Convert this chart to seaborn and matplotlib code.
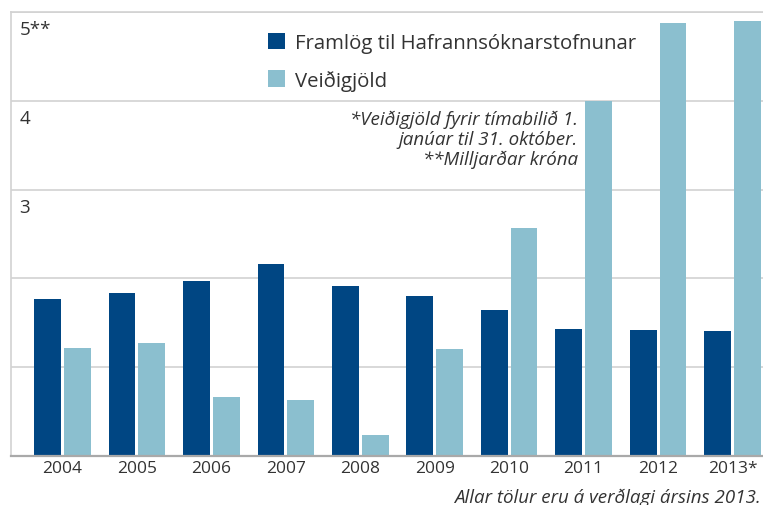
import matplotlib
matplotlib.use("Agg")
import matplotlib.pyplot as plt
from matplotlib.transforms import ScaledTranslation
import seaborn as sns
import pandas as pd

years = ["2004", "2005", "2006", "2007", "2008", "2009", "2010", "2011", "2012", "2013*"]
framlog = [1.77, 1.83, 1.97, 2.16, 1.91, 1.80, 1.64, 1.43, 1.42, 1.41]
veidigjold = [1.21, 1.27, 0.66, 0.63, 0.23, 1.20, 2.57, 4.00, 4.88, 4.90]
series_names = ["Framlög til Hafrannsóknarstofnunar", "Veiðigjöld"]
ytick_vals = [1, 2, 3, 4, 5]
ytick_labels = ["", "", "3", "4", "5**"]
note_text = "*Veiðigjöld fyrir tímabilið 1.\njanúar til 31. október.\n**Milljarðar króna"
footer_text = "Allar tölur eru á verðlagi ársins 2013."

df = pd.DataFrame({
    "year": years * 2,
    "series": [series_names[0]] * len(years) + [series_names[1]] * len(years),
    "value": framlog + veidigjold,
})

sns.set_theme(style="white")
FONT = ["Open Sans", "DejaVu Sans"]
plt.rcParams["font.family"] = FONT
TXT = "#333333"
GRID = "#d2d2d2"

fig = plt.figure(figsize=(7.63, 5.06), dpi=100)
ax = fig.add_axes([11 / 763, 1 - 456.7 / 506, 1 - 11 / 763, (456.7 - 13.2) / 506])

sns.barplot(data=df, x="year", y="value", hue="series", order=years,
            hue_order=series_names,
            palette={series_names[0]: "#004683", series_names[1]: "#8bbfcf"},
            width=0.8, gap=0.1, saturation=1, linewidth=0, ax=ax, zorder=3)

ax.set_xlim(-0.692, 9.41)
ax.set_ylim(0, 5)
ax.set_xlabel("")
ax.set_ylabel("")

ax.set_yticks(ytick_vals)
ax.set_yticklabels(ytick_labels)
ax.yaxis.grid(True, color=GRID, linewidth=1.2, zorder=0)
ax.set_axisbelow(True)
ax.tick_params(axis="y", length=0, pad=-6, labelsize=13.5, labelcolor=TXT)
for lab in ax.get_yticklabels():
    lab.set_horizontalalignment("left")
    lab.set_verticalalignment("top")
    lab.set_transform(lab.get_transform() + ScaledTranslation(0, -8 / 100, fig.dpi_scale_trans))

ax.tick_params(axis="x", length=0, pad=3, labelsize=12.5, labelcolor=TXT)

ax.spines["right"].set_visible(False)
ax.spines["top"].set_color(GRID)
ax.spines["top"].set_linewidth(1.2)
ax.spines["left"].set_color(GRID)
ax.spines["left"].set_linewidth(1.2)
ax.spines["bottom"].set_color("#a9a9a9")
ax.spines["bottom"].set_linewidth(1.6)
ax.spines["bottom"].set_zorder(4)

leg = ax.legend(loc="upper left", bbox_to_anchor=(268 / 763, 1 - 34 / 506),
                bbox_transform=fig.transFigure, frameon=False, fontsize=14.7,
                handlelength=0.85, handleheight=0.85, handletextpad=0.45,
                labelspacing=0.8, borderpad=0, borderaxespad=0)
for t in leg.get_texts():
    t.set_color(TXT)

fig.text(578 / 763, 1 - 111 / 506, note_text, ha="right", va="top",
         fontsize=13.5, style="italic", color=TXT, linespacing=1.13)
fig.text(761 / 763, 1 - 498 / 506, footer_text, ha="right", va="center",
         fontsize=13.5, style="italic", color=TXT)

fig.savefig("out.png", dpi=100)
